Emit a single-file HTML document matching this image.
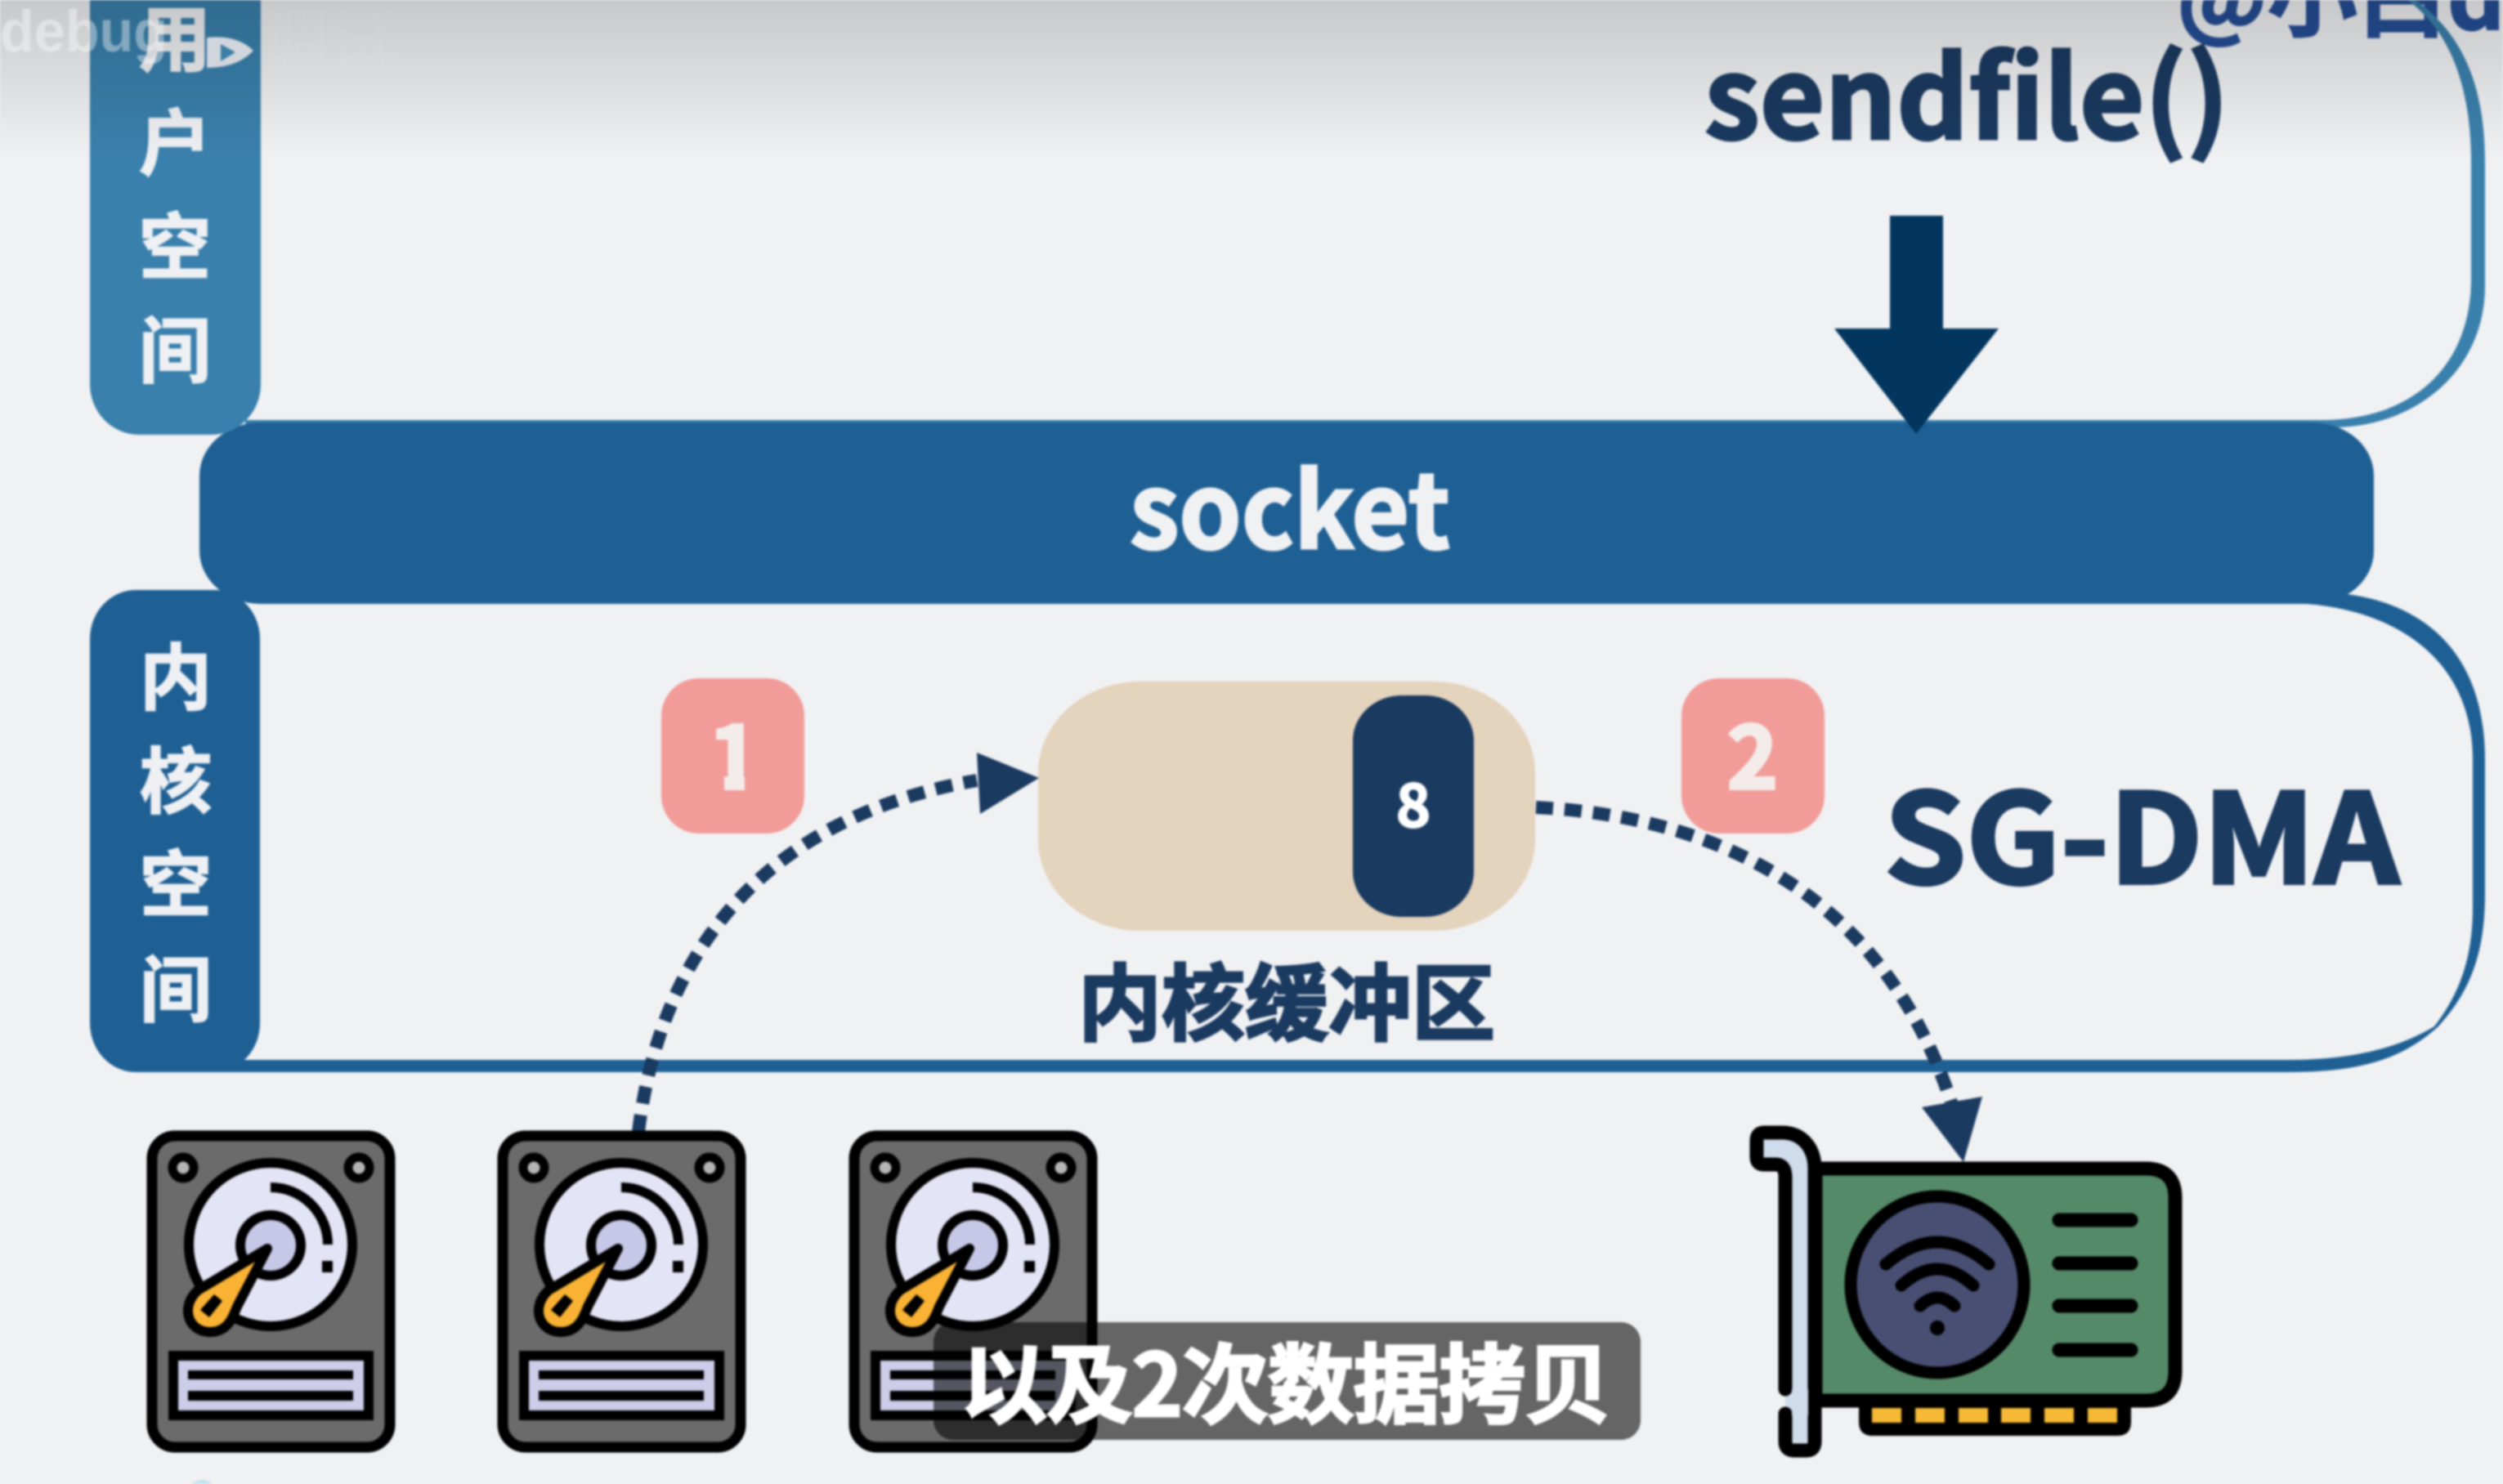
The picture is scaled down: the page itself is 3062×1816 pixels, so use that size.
<!DOCTYPE html>
<html lang="zh">
<head>
<meta charset="utf-8">
<title>sendfile SG-DMA</title>
<style>
html,body{margin:0;padding:0;width:3062px;height:1816px;overflow:hidden;background:#f0f1f3}
svg{display:block;filter:blur(1.2px)}
text{font-family:"Liberation Sans","Noto Sans CJK SC",sans-serif}
.n{font-family:"Noto Sans CJK SC","Liberation Sans",sans-serif;font-weight:700}
</style>
</head>
<body>
<svg xmlns="http://www.w3.org/2000/svg" width="3062" height="1816" viewBox="0 0 3062 1816">
<defs>
<linearGradient id="top" x1="0" y1="0" x2="0" y2="1">
<stop offset="0" stop-color="#000" stop-opacity=".17"/>
<stop offset="1" stop-color="#000" stop-opacity="0"/>
</linearGradient>
<g id="hdd">
<rect x="6" y="6" width="291" height="381" rx="28" fill="#6b6b6c" stroke="#000" stroke-width="13"/>
<circle cx="44" cy="45" r="13" fill="#b4b4b4" stroke="#000" stroke-width="11"/>
<circle cx="259" cy="45" r="13" fill="#b4b4b4" stroke="#000" stroke-width="11"/>
<circle cx="151" cy="139" r="100" fill="#e3e4f5" stroke="#000" stroke-width="12"/>
<circle cx="151" cy="140" r="37" fill="#c7c8e8" stroke="#000" stroke-width="12"/>
<path d="M151,69 A70,70 0 0 1 221,139" fill="none" stroke="#000" stroke-width="12"/>
<rect x="214" y="159" width="13" height="14" fill="#000"/>
<path d="M147,144 L62,195 C40,215 50,246 77,246 C100,246 106,225 110,215 Z" fill="#f9b233" stroke="#000" stroke-width="12" stroke-linejoin="round"/>
<polygon points="82,200 92,208 76,228 65,219" fill="#000"/>
<rect x="32" y="275" width="239" height="73" fill="#cdcdea" stroke="#000" stroke-width="12"/>
<rect x="50" y="293" width="202" height="11" fill="#000"/>
<rect x="50" y="318" width="202" height="12" fill="#000"/>
</g>
</defs>

<rect width="3062" height="1816" fill="#f0f1f3"/>

<text class="n" x="2663" y="36" font-size="110" fill="#254e96" stroke="#254e96" stroke-width="2">@小白debug</text>

<path d="M2955,0 C3010,40 3040,100 3040,200 L3040,350 C3040,450 2960,520 2860,523 L300,521 L300,514 L2840,514 C2950,514 3023,450 3023,340 L3023,200 C3023,110 3000,40 2945,0 Z" fill="#3a80ac"/>
<path d="M2843,725 C2930,727 3040,770 3040,930 L3040,1094 C3040,1170 3020,1215 2983,1256 C2940,1295 2890,1312 2800,1312 L250,1312 L250,1297 L2800,1297 C2870,1297 2930,1285 2978,1256 C3010,1215 3025,1170 3025,1110 L3025,930 C3025,800 2920,740 2800,738 L2600,738 L2600,725 Z" fill="#1f6094"/>

<rect x="244" y="517" width="2660" height="222" rx="75" ry="65" fill="#1f6094"/>

<rect x="110" y="-60" width="209" height="592" rx="60" ry="62" fill="#3a80ac"/>
<rect x="110" y="722" width="208" height="590" rx="56" ry="60" fill="#1f6094"/>

<g class="n" font-size="88" fill="#eef0f3" stroke="#eef0f3" stroke-width="2" text-anchor="middle">
<text class="n" x="214" y="80">用</text>
<text class="n" x="214" y="207">户</text>
<text class="n" x="214" y="334">空</text>
<text class="n" x="214" y="461">间</text>
<text class="n" x="215" y="861">内</text>
<text class="n" x="215" y="988">核</text>
<text class="n" x="215" y="1114">空</text>
<text class="n" x="215" y="1243">间</text>
</g>

<text class="n" x="2085" y="170" font-size="138" fill="#1b3a60" stroke="#1b3a60" stroke-width="3" textLength="642" lengthAdjust="spacingAndGlyphs">sendfile()</text>

<polygon points="2312,264 2377,264 2377,402 2445,402 2344,531 2244,402 2312,402" fill="#02365f"/>

<text class="n" x="1578" y="671" font-size="127" fill="#f0f1f3" stroke="#f0f1f3" stroke-width="3" text-anchor="middle" textLength="392" lengthAdjust="spacingAndGlyphs">socket</text>

<text class="n" x="2305" y="1081" font-size="152" fill="#1b3a60" stroke="#1b3a60" stroke-width="4" textLength="630" lengthAdjust="spacingAndGlyphs">SG-DMA</text>

<rect x="809" y="830" width="175" height="190" rx="46" fill="#f29c9a"/>
<text class="n" x="898" y="965" font-size="105" fill="#f4ecea" stroke="#f4ecea" stroke-width="4" text-anchor="middle">1</text>
<rect x="860" y="940" width="26" height="34" fill="#f29c9a"/>
<rect x="911" y="940" width="28" height="34" fill="#f29c9a"/>
<rect x="2057" y="830" width="175" height="190" rx="46" fill="#f29c9a"/>
<text class="n" x="2144" y="965" font-size="105" fill="#f4ecea" stroke="#f4ecea" stroke-width="4" text-anchor="middle">2</text>

<rect x="1270" y="834" width="608" height="305" rx="125" ry="112" fill="#e4d3bd"/>
<rect x="1655" y="851" width="148" height="271" rx="60" ry="55" fill="#1b3a60"/>
<text class="n" x="1729" y="1012" font-size="72" fill="#fff" stroke="#fff" stroke-width="2" text-anchor="middle">8</text>

<text class="n" x="1574" y="1265" font-size="102" fill="#1b3a60" stroke="#1b3a60" stroke-width="3" text-anchor="middle">内核缓冲区</text>

<path d="M781,1385 C800,1230 880,1010 1195,955" fill="none" stroke="#1b3a60" stroke-width="16" stroke-dasharray="21 14"/>
<polygon points="1195,921 1271,952 1199,996" fill="#1b3a60"/>
<path d="M1879,988 C2120,1000 2310,1110 2388,1352" fill="none" stroke="#1b3a60" stroke-width="16" stroke-dasharray="21 14"/>
<polygon points="2351,1355 2425,1342 2402,1422" fill="#1b3a60"/>

<use href="#hdd" x="180" y="1384"/>
<use href="#hdd" x="609" y="1384"/>
<use href="#hdd" x="1039" y="1384"/>

<circle cx="247" cy="1830" r="19" fill="#bfe0f0"/>

<g>
<path d="M2184,1730 L2184,1764 Q2184,1775 2195,1775 L2210,1775 Q2220,1775 2220,1764 L2220,1430 C2220,1405 2205,1386 2180,1386 L2158,1386 Q2149,1386 2149,1396 L2149,1416 Q2149,1425 2158,1425 L2172,1425 Q2184,1425 2184,1440 L2184,1700" fill="#cfdcec" stroke="#000" stroke-width="17" stroke-linecap="round" stroke-linejoin="round"/>
<rect x="2192" y="1700" width="20" height="32" fill="#cfdcec"/>
<path d="M2274,1715 L2607,1715 L2607,1740 Q2607,1757 2590,1757 L2291,1757 Q2274,1757 2274,1740 Z" fill="#000"/>
<g fill="#f5b936">
<rect x="2290" y="1723" width="36" height="18"/>
<rect x="2343" y="1723" width="36" height="18"/>
<rect x="2396" y="1723" width="36" height="18"/>
<rect x="2448" y="1723" width="36" height="18"/>
<rect x="2501" y="1723" width="36" height="18"/>
<rect x="2554" y="1723" width="36" height="18"/>
</g>
<path d="M2221,1430 L2625,1430 Q2661,1430 2661,1466 L2661,1678 Q2661,1714 2625,1714 L2221,1714 Z" fill="#558a68" stroke="#000" stroke-width="17" stroke-linejoin="round"/>
<ellipse cx="2370" cy="1572" rx="106" ry="108" fill="#484f73" stroke="#000" stroke-width="15"/>
<g fill="none" stroke="#000" stroke-width="15" stroke-linecap="round">
<path d="M2307,1547 Q2370,1493 2433,1547"/>
<path d="M2326,1573 Q2370,1533 2414,1573"/>
<path d="M2349,1598 Q2370,1578 2391,1598"/>
</g>
<circle cx="2370" cy="1625" r="9" fill="#000"/>
<g stroke="#000" stroke-width="17" stroke-linecap="round">
<line x1="2519" y1="1493" x2="2607" y2="1493"/>
<line x1="2519" y1="1546" x2="2607" y2="1546"/>
<line x1="2519" y1="1598" x2="2607" y2="1598"/>
<line x1="2519" y1="1652" x2="2607" y2="1652"/>
</g>
</g>

<rect width="3062" height="195" fill="url(#top)"/>

<rect x="1142" y="1618" width="865" height="144" rx="24" fill="#000" fill-opacity=".58"/>
<text class="n" x="1573" y="1733" font-size="106" fill="#fff" stroke="#fff" stroke-width="3" text-anchor="middle" textLength="796" lengthAdjust="spacing">以及2次数据拷贝</text>

<text x="0" y="63" font-size="72" font-weight="700" fill="#fff" fill-opacity=".4" textLength="205" lengthAdjust="spacingAndGlyphs">debug</text>
<path d="M253,46 Q290,42 310,62 Q290,83 253,83 Z" fill="#d0d6dc"/>
<polygon points="270,54 288,64 270,75" fill="#3a7ea6"/>
<text x="318" y="78" font-size="84" fill="#fff" fill-opacity=".05">调试</text>
</svg>
</body>
</html>
